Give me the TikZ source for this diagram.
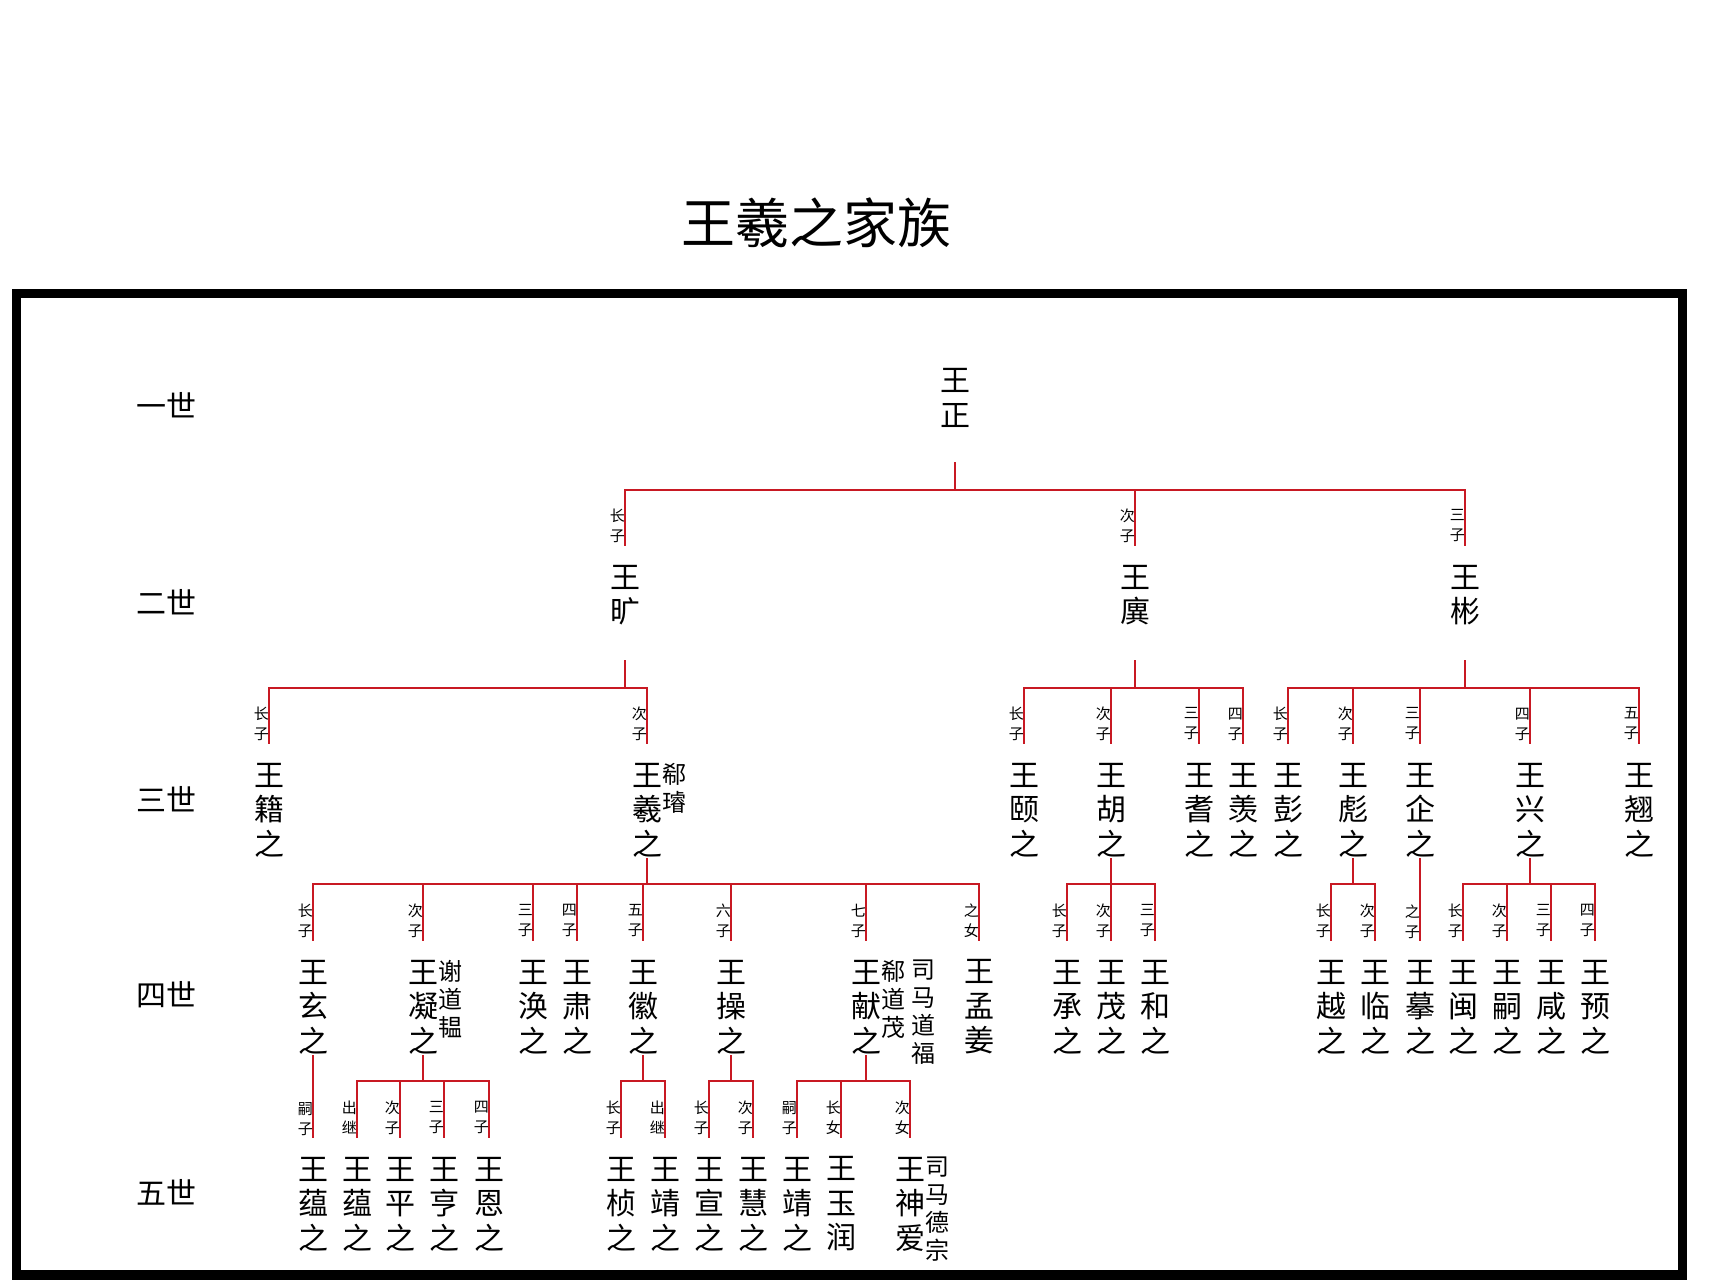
\documentclass[tikz,border=0pt]{standalone}
\usepackage{fontspec}
\setmainfont{Noto Sans CJK SC}
\definecolor{wred}{RGB}{200,25,35}

\begin{document}
\begin{tikzpicture}[x=0.5pt, y=-0.5pt,
  main/.style = {font=\fontsize{15}{17.25}\selectfont, align=center, inner sep=0pt},
  note/.style = {font=\fontsize{12}{14}\selectfont, align=center, inner sep=0pt, anchor=north west},
  tag/.style = {font=\fontsize{7.5}{10}\selectfont, align=center, inner sep=0pt, left, xshift=0.6pt, pos=0.66},
  link/.style = {draw=wred, line width=1.3pt, line cap=rect}]
  \useasboundingbox (0,0) rectangle (1722,1280);
  \draw[line width=4.75pt] (16.5,293.5) rectangle (1682.5,1275);
  \node[font=\fontsize{27}{30}\selectfont] (title) at (816,223) {王羲之家族};
  \foreach \y/\g [count=\i] in {405/一世,602/二世,799/三世,995/四世,1192/五世}
    \node[main] (g\i) at (166,\y) {\g};

  % first and second generation
  \node[main] (1) at (955,398) {王\\正};
  \node[main] (2) at (625,595) {王\\旷};
  \node[main] (3) at (1135,595) {王\\廙};
  \node[main] (4) at (1465,595) {王\\彬};

  % third generation
  \node[main] (5) at (269,810) {王\\籍\\之};
  \node[main] (6) at (647,810) {王\\羲\\之};
  \node[note] (7) at (6.north east) {郗\\璿};
  \node[main] (8) at (1024,810) {王\\颐\\之};
  \node[main] (9) at (1111,810) {王\\胡\\之};
  \node[main] (10) at (1199,810) {王\\耆\\之};
  \node[main] (11) at (1243,810) {王\\羡\\之};
  \node[main] (12) at (1288,810) {王\\彭\\之};
  \node[main] (13) at (1353,810) {王\\彪\\之};
  \node[main] (14) at (1420,810) {王\\企\\之};
  \node[main] (15) at (1530,810) {王\\兴\\之};
  \node[main] (16) at (1639,810) {王\\翘\\之};

  % fourth generation
  \node[main] (17) at (313,1007) {王\\玄\\之};
  \node[main] (18) at (423,1007) {王\\凝\\之};
  \node[note] (19) at (18.north east) {谢\\道\\韫};
  \node[main] (20) at (533,1007) {王\\涣\\之};
  \node[main] (21) at (577,1007) {王\\肃\\之};
  \node[main] (22) at (643,1007) {王\\徽\\之};
  \node[main] (23) at (731,1007) {王\\操\\之};
  \node[main] (24) at (866,1007) {王\\献\\之};
  \node[note] (25) at (24.north east) {郗\\道\\茂};
  \node[note, xshift=2.5pt] (26) at (25.north east) {司\\马\\道\\福};
  \node[main] (27) at (979,1007) {王\\孟\\姜};
  \node[main] (28) at (1067,1007) {王\\承\\之};
  \node[main] (29) at (1111,1007) {王\\茂\\之};
  \node[main] (30) at (1155,1007) {王\\和\\之};
  \node[main] (31) at (1331,1007) {王\\越\\之};
  \node[main] (32) at (1375,1007) {王\\临\\之};
  \node[main] (33) at (1420,1007) {王\\摹\\之};
  \node[main] (34) at (1463,1007) {王\\闽\\之};
  \node[main] (35) at (1507,1007) {王\\嗣\\之};
  \node[main] (36) at (1551,1007) {王\\咸\\之};
  \node[main] (37) at (1595,1007) {王\\预\\之};

  % fifth generation
  \node[main] (38) at (313,1204) {王\\蕴\\之};
  \node[main] (39) at (357,1204) {王\\蕴\\之};
  \node[main] (40) at (400,1204) {王\\平\\之};
  \node[main] (41) at (444,1204) {王\\亨\\之};
  \node[main] (42) at (489,1204) {王\\恩\\之};
  \node[main] (43) at (621,1204) {王\\桢\\之};
  \node[main] (44) at (665,1204) {王\\靖\\之};
  \node[main] (45) at (709,1204) {王\\宣\\之};
  \node[main] (46) at (753,1204) {王\\慧\\之};
  \node[main] (47) at (797,1204) {王\\靖\\之};
  \node[main] (48) at (841,1204) {王\\玉\\润};
  \node[main] (49) at (910,1204) {王\\神\\爱};
  \node[note] (50) at (49.north east) {司\\马\\德\\宗};

  % bars under each father
  \coordinate (b1) at (955,490);
  \coordinate (b2) at (625,688);
  \coordinate (b3) at (1135,688);
  \coordinate (b4) at (1465,688);
  \coordinate (b6) at (647,884);
  \coordinate (b9) at (1111,884);
  \coordinate (b13) at (1353,884);
  \coordinate (b15) at (1530,884);
  \coordinate (b18) at (423,1081);
  \coordinate (b22) at (643,1081);
  \coordinate (b23) at (731,1081);
  \coordinate (b24) at (866,1081);

  \draw[link] ([yshift=-18pt]1.south) -- (b1);
  \draw[link] (b1 -| 2) -- (b1 -| 4);
  \foreach \c/\t in {2/长\\子,3/次\\子,4/三\\子}
    \draw[link] (b1 -| \c) -- node[tag] {\t} ([yshift=10pt]\c.north);

  \draw[link] ([yshift=-18pt]2.south) -- (b2);
  \draw[link] (b2 -| 5) -- (b2 -| 6);
  \foreach \c/\t in {5/长\\子,6/次\\子}
    \draw[link] (b2 -| \c) -- node[tag] {\t} ([yshift=10pt]\c.north);

  \draw[link] ([yshift=-18pt]3.south) -- (b3);
  \draw[link] (b3 -| 8) -- (b3 -| 11);
  \foreach \c/\t in {8/长\\子,9/次\\子,10/三\\子,11/四\\子}
    \draw[link] (b3 -| \c) -- node[tag] {\t} ([yshift=10pt]\c.north);

  \draw[link] ([yshift=-18pt]4.south) -- (b4);
  \draw[link] (b4 -| 12) -- (b4 -| 16);
  \foreach \c/\t in {12/长\\子,13/次\\子,14/三\\子,15/四\\子,16/五\\子}
    \draw[link] (b4 -| \c) -- node[tag] {\t} ([yshift=10pt]\c.north);

  \draw[link] ([yshift=-1pt]6.south) -- (b6);
  \draw[link] (b6 -| 17) -- (b6 -| 27);
  \foreach \c/\t in {17/长\\子,18/次\\子,20/三\\子,21/四\\子,22/五\\子,23/六\\子,24/七\\子,27/之\\女}
    \draw[link] (b6 -| \c) -- node[tag] {\t} ([yshift=10pt]\c.north);

  \draw[link] ([yshift=-1pt]9.south) -- (b9);
  \draw[link] (b9 -| 28) -- (b9 -| 30);
  \foreach \c/\t in {28/长\\子,29/次\\子,30/三\\子}
    \draw[link] (b9 -| \c) -- node[tag] {\t} ([yshift=10pt]\c.north);

  \draw[link] ([yshift=-1pt]13.south) -- (b13);
  \draw[link] (b13 -| 31) -- (b13 -| 32);
  \foreach \c/\t in {31/长\\子,32/次\\子}
    \draw[link] (b13 -| \c) -- node[tag] {\t} ([yshift=10pt]\c.north);

  \draw[link] ([yshift=-1pt]14.south) -- node[tag, pos=0.78] {之\\子} ([yshift=10pt]33.north);

  \draw[link] ([yshift=-1pt]15.south) -- (b15);
  \draw[link] (b15 -| 34) -- (b15 -| 37);
  \foreach \c/\t in {34/长\\子,35/次\\子,36/三\\子,37/四\\子}
    \draw[link] (b15 -| \c) -- node[tag] {\t} ([yshift=10pt]\c.north);

  \draw[link] ([yshift=-1pt]17.south) -- node[tag, pos=0.78] {嗣\\子} ([yshift=10pt]38.north);

  \draw[link] ([yshift=-1pt]18.south) -- (b18);
  \draw[link] (b18 -| 39) -- (b18 -| 42);
  \foreach \c/\t in {39/出\\继,40/次\\子,41/三\\子,42/四\\子}
    \draw[link] (b18 -| \c) -- node[tag] {\t} ([yshift=10pt]\c.north);

  \draw[link] ([yshift=-1pt]22.south) -- (b22);
  \draw[link] (b22 -| 43) -- (b22 -| 44);
  \foreach \c/\t in {43/长\\子,44/出\\继}
    \draw[link] (b22 -| \c) -- node[tag] {\t} ([yshift=10pt]\c.north);

  \draw[link] ([yshift=-1pt]23.south) -- (b23);
  \draw[link] (b23 -| 45) -- (b23 -| 46);
  \foreach \c/\t in {45/长\\子,46/次\\子}
    \draw[link] (b23 -| \c) -- node[tag] {\t} ([yshift=10pt]\c.north);

  \draw[link] ([yshift=-1pt]24.south) -- (b24);
  \draw[link] (b24 -| 47) -- (b24 -| 49);
  \foreach \c/\t in {47/嗣\\子,48/长\\女,49/次\\女}
    \draw[link] (b24 -| \c) -- node[tag] {\t} ([yshift=10pt]\c.north);
\end{tikzpicture}
\end{document}
